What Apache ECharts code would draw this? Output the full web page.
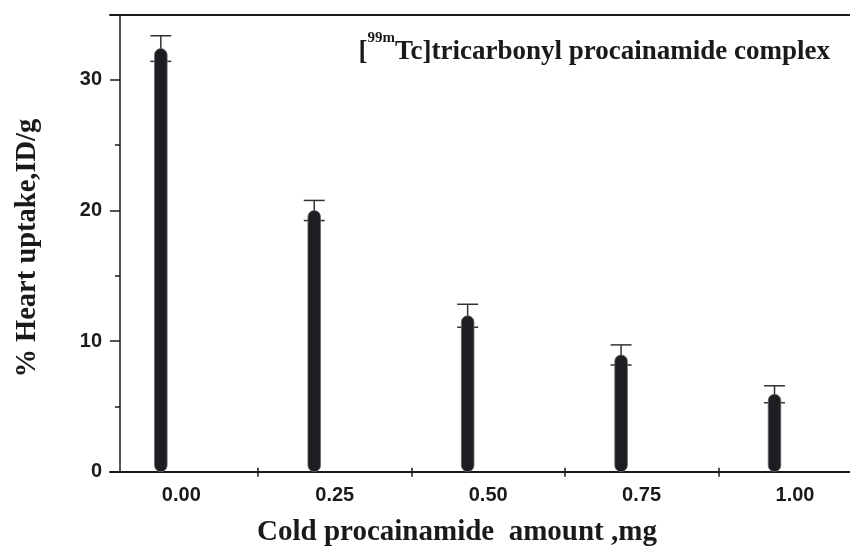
<!DOCTYPE html>
<html>
<head>
<meta charset="utf-8">
<script src="https://cdn.jsdelivr.net/npm/echarts@6/dist/echarts.min.js"></script>
<style>html,body{margin:0;padding:0;background:#fff}#c{width:850px;height:547px}</style>
</head>
<body>
<div id="c"></div>
<script>
// Data
const amounts = [0, 0.25, 0.5, 0.75, 1.0];             // mg cold procainamide
const uptake = [32.4, 20.0, 11.94, 8.94, 5.93];        // % heart uptake ID/g
const errors = [0.98, 0.77, 0.88, 0.77, 0.65];         // SD
const xTickLabels = [0, 0.25, 0.5, 0.75, 1.0];
const xTickMarks = [0.125, 0.375, 0.625, 0.875];
const yTickLabels = [0, 10, 20, 30];
const yMinorTicks = [5, 15, 25];

const BAR_W = 12.6;
const SHIFT = -20.5;
const CAP_W = 21;
const INK = '#1d1e22';

const barData = amounts.map((a, i) => [a, uptake[i]]);
const errData = amounts.map((a, i) => [a, uptake[i], errors[i]]);

const chart = echarts.init(document.getElementById('c'));
chart.setOption({
  animation: false,
  backgroundColor: '#fff',
  title: {
    right: 20, top: 36, padding: 0,
    text: '{n|[}{s|99m}{n|Tc]tricarbonyl procainamide complex}',
    textStyle: {
      rich: {
        n: {fontFamily: 'Liberation Serif', fontWeight: 'bold', fontSize: 27, color: '#1a1a1a', lineHeight: 30, verticalAlign: 'bottom'},
        s: {fontFamily: 'Liberation Serif', fontWeight: 'bold', fontSize: 15, color: '#1a1a1a', lineHeight: 16, verticalAlign: 'bottom', padding: [0, 0, 20, 0]}
      }
    }
  },
  grid: {left: 110, right: 0, top: 14.6, bottom: 75.3, containLabel: false, outerBoundsMode: 'none'},
  xAxis: [
    {
      type: 'value', min: -0.1162, max: 1.0896, position: 'bottom',
      axisLine: {onZero: false, lineStyle: {color: '#1a1a1a', width: 2}},
      axisTick: {show: true, customValues: xTickMarks, length: 5, inside: false, lineStyle: {color: '#1a1a1a', width: 1.5}},
      axisLabel: {customValues: xTickLabels, margin: 14, formatter: v => v.toFixed(2),
        fontFamily: 'Liberation Sans', fontWeight: 'bold', fontSize: 20, color: '#1a1a1a'},
      splitLine: {show: false},
      name: 'Cold procainamide  amount ,mg', nameLocation: 'middle', nameGap: 46,
      nameTextStyle: {fontFamily: 'Liberation Serif', fontWeight: 'bold', fontSize: 29, color: '#1a1a1a', padding: [0, 46, 0, 0]}
    },
    {
      type: 'value', min: -0.1162, max: 1.0896, position: 'bottom',
      axisLine: {show: false, onZero: false},
      axisTick: {show: true, customValues: xTickMarks, length: 4, inside: true, lineStyle: {color: '#1a1a1a', width: 1.5}},
      axisLabel: {show: false}, splitLine: {show: false}
    },
    {
      type: 'value', min: -0.1162, max: 1.0896, position: 'top',
      axisLine: {show: true, onZero: false, lineStyle: {color: '#1a1a1a', width: 2}},
      axisTick: {show: false}, axisLabel: {show: false}, splitLine: {show: false}
    }
  ],
  yAxis: [
    {
      type: 'value', min: 0, max: 35, position: 'left', offset: -10,
      axisLine: {show: true, onZero: false, lineStyle: {color: '#1a1a1a', width: 1.5}},
      axisTick: {show: true, customValues: yTickLabels, length: 10, lineStyle: {color: '#1a1a1a', width: 1.5}},
      axisLabel: {customValues: yTickLabels, margin: 18,
        fontFamily: 'Liberation Sans', fontWeight: 'bold', fontSize: 20, color: '#1a1a1a'},
      splitLine: {show: false},
      name: '% Heart uptake,ID/g', nameLocation: 'middle', nameGap: 78,
      nameTextStyle: {fontFamily: 'Liberation Serif', fontWeight: 'bold', fontSize: 28.5, color: '#1a1a1a', padding: [0, 10, 0, 0]}
    },
    {
      type: 'value', min: 0, max: 35, position: 'left', offset: -10,
      axisLine: {show: false, onZero: false},
      axisTick: {show: true, customValues: yMinorTicks, length: 5, lineStyle: {color: '#1a1a1a', width: 1.5}},
      axisLabel: {show: false}, splitLine: {show: false}
    }
  ],
  series: [
    {
      type: 'custom', xAxisIndex: 0, yAxisIndex: 0, data: errData, z: 2,
      renderItem: (params, api) => {
        const x = api.value(0), y = api.value(1), e = api.value(2);
        const hi = api.coord([x, y + e]);
        const lo = api.coord([x, y - e]);
        const cx = hi[0] + SHIFT;
        const st = {stroke: '#333', lineWidth: 1.5};
        return {type: 'group', children: [
          {type: 'line', shape: {x1: cx, y1: hi[1], x2: cx, y2: lo[1]}, style: st},
          {type: 'line', shape: {x1: cx - CAP_W / 2, y1: hi[1], x2: cx + CAP_W / 2, y2: hi[1]}, style: st},
          {type: 'line', shape: {x1: cx - CAP_W / 2, y1: lo[1], x2: cx + CAP_W / 2, y2: lo[1]}, style: st}
        ]};
      }
    },
    {
      type: 'custom', xAxisIndex: 0, yAxisIndex: 0, data: barData, z: 3,
      renderItem: (params, api) => {
        const x = api.value(0), y = api.value(1);
        const top = api.coord([x, y]);
        const bot = api.coord([x, 0]);
        return {type: 'rect',
          shape: {x: top[0] + SHIFT - BAR_W / 2, y: top[1], width: BAR_W, height: bot[1] - top[1], r: BAR_W / 2},
          style: {fill: INK, stroke: '#6b6b6e', lineWidth: 0.8}};
      }
    }
  ]
});
</script>
</body>
</html>
